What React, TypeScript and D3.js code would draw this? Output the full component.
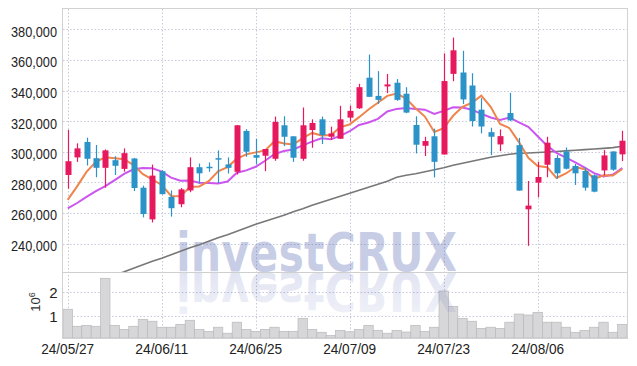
import React from 'react';
import * as d3 from 'd3';

const dates = [
  '24/05/27','24/05/28','24/05/29','24/05/30','24/05/31','24/06/03','24/06/04','24/06/05','24/06/07','24/06/10',
  '24/06/11','24/06/12','24/06/13','24/06/14','24/06/17','24/06/18','24/06/19','24/06/20','24/06/21','24/06/24',
  '24/06/25','24/06/26','24/06/27','24/06/28','24/07/01','24/07/02','24/07/03','24/07/04','24/07/05','24/07/08',
  '24/07/09','24/07/10','24/07/11','24/07/12','24/07/15','24/07/16','24/07/17','24/07/18','24/07/19','24/07/22',
  '24/07/23','24/07/24','24/07/25','24/07/26','24/07/29','24/07/30','24/07/31','24/08/01','24/08/02','24/08/05',
  '24/08/06','24/08/07','24/08/08','24/08/09','24/08/12','24/08/13','24/08/14','24/08/16','24/08/19','24/08/20',
];

const opens = [
  284800,296300,306400,295800,289500,294500,288800,295600,276500,255800,
  287300,270500,265700,274700,289900,290200,295800,291700,286900,313600,
  297800,297400,295400,317300,310100,295400,314200,321200,309800,308500,
  322300,328400,348400,336500,342700,345100,337900,317500,303900,310100,
  298200,350900,351800,343300,327500,312800,304800,325300,304300,262400,
  279800,291500,295900,300200,290700,287400,284600,287800,300200,298300,
];
const highs = [
  314300,305500,309200,304400,301500,297100,302200,296000,277800,291600,
  288000,274700,276300,296300,292300,293000,300900,296300,317500,314700,
  308500,301800,323000,323200,310100,328900,321200,323000,316400,330000,
  330200,344400,363500,352700,350800,347500,342200,323200,309800,315100,
  364300,374600,366000,351300,335000,315700,314600,338500,309100,280900,
  293500,309800,297800,302800,292000,289800,285200,301100,300200,313700,
];
const lows = [
  275800,293400,291000,283300,276500,284800,287000,274300,257100,253800,
  272000,257600,263700,273600,279100,286900,279600,285800,285100,296700,
  291700,287300,294100,303700,293400,294100,302600,305000,307700,308500,
  319700,328000,335900,331300,338300,333300,325200,298900,297200,283200,
  298200,346100,331200,316500,312000,297800,300400,320000,274600,238500,
  270200,283300,282400,288500,278300,274600,273500,284600,287600,293900,
];
const closes = [
  293800,302200,295400,289500,300900,290800,299100,276300,259300,284400,
  272300,263100,275400,289900,285900,289900,295000,289500,317300,300000,
  296100,301800,319500,309800,296100,317300,318800,310900,312000,321200,
  326700,342200,335900,333900,344000,333900,325600,304600,307000,293400,
  346200,366300,334200,320100,316500,309800,310200,320500,274600,264800,
  283500,305900,285900,288900,285900,276500,273900,297600,288300,307200,
];
const volumes = [
  1.27,0.56,0.60,0.56,2.56,0.60,0.43,0.56,0.85,0.77,
  0.52,0.52,0.64,0.81,0.43,0.35,0.52,0.27,0.73,0.43,
  0.35,0.43,0.52,0.35,0.35,0.89,0.43,0.31,0.18,0.39,
  0.33,0.43,0.60,0.39,0.27,0.39,0.32,0.60,0.35,0.52,
  2.03,1.39,0.89,0.77,0.47,0.52,0.47,0.73,1.07,1.03,
  1.14,0.73,0.73,0.52,0.31,0.39,0.52,0.73,0.31,0.64,
];
const ma5 = [
  268500,277400,286800,293400,296400,295800,295100,291300,285300,282000,
  278300,271100,270900,277000,277300,280800,287200,290000,295500,298300,
  299600,300900,306900,305400,304700,308900,312300,310600,311000,316000,
  317900,322600,327600,332000,336500,338000,334700,328400,323000,312900,
  315400,323500,329400,332000,336700,329400,318200,315400,306300,296000,
  290700,289900,282900,285800,290000,288600,282200,284600,284400,288700,
];
const ma10 = [
  263000,266500,270500,274300,277500,281500,285500,288500,289300,289200,
  287000,283100,281100,281200,279700,279600,279200,280500,286300,287800,
  290200,294100,298500,300500,301500,304200,306600,308800,308200,310400,
  313400,317500,319100,321500,326300,328000,328600,328000,327500,324700,
  326700,329100,328900,327500,324800,322400,320800,322400,319200,316300,
  310100,304000,299200,296100,293000,289700,286000,283800,285100,289400,
];
const maLong: (number | null)[] = [
  null,null,null,null,null,219300,221500,223900,226100,228400,
  230400,232700,235000,237300,239200,241500,243800,245800,248000,250300,
  252600,254600,256500,258500,260800,262700,265000,267000,269000,270900,
  272900,274800,276800,278800,280700,283300,284600,285600,286900,288200,
  289500,291200,292500,293800,295100,296400,297400,298400,299000,299200,
  299500,299800,300200,300600,301000,301400,301800,302200,302700,303600,
];

const priceTicks = [240000,260000,280000,300000,320000,340000,360000,380000];
const volumeTicks = [1, 2];
const dateTickIdx = [0,10,20,30,40,50];

const W = 637, H = 366;
const L = 63, R = 627, T = 9, PB = 272, VB = 338;
const UP = '#e6195f', DOWN = '#2b93c8';
const FONT = '"Liberation Sans", Arial, sans-serif';

export default function App() {
  const idx = d3.range(dates.length);
  const x = d3.scaleBand<number>().domain(idx).range([L, R]).padding(0);
  const cx = (i: number) => (x(i) as number) + x.bandwidth() / 2;
  const y = d3.scaleLinear().domain([221400, 393300]).range([PB, T]);
  const yv = d3.scaleLinear().domain([0, 2.8]).range([339.7, 272.5]);
  const fmt = d3.format(',');

  const line = (arr: (number | null)[]) =>
    d3.line<number | null>()
      .defined((d) => d != null)
      .x((_, i) => cx(i))
      .y((d) => y(d as number))
      .curve(d3.curveLinear)(arr) || '';

  const bodyW = 6;

  return (
    <svg width={W} height={H} style={{ position: 'absolute', left: 0, top: 0, background: '#fff' }}
      fontFamily={FONT}>
      <defs>
        <clipPath id="pclip"><rect x={L} y={T} width={R - L} height={PB - T} /></clipPath>
        <clipPath id="vclip"><rect x={L} y={PB} width={R - L} height={VB - PB} /></clipPath>
        <linearGradient id="refl" x1="0" y1="0" x2="0" y2="1">
          <stop offset="0" stopColor="#3c4ea8" stopOpacity={0.07} />
          <stop offset="1" stopColor="#3c4ea8" stopOpacity={0.17} />
        </linearGradient>
      </defs>

      {/* grid */}
      <g stroke="#c6c8dc" strokeWidth={1} strokeDasharray="1.5 2">
        {priceTicks.map((t) => (
          <line key={'p' + t} x1={L} x2={R} y1={Math.round(y(t)) + 0.5} y2={Math.round(y(t)) + 0.5} />
        ))}
        {volumeTicks.map((t) => (
          <line key={'v' + t} x1={L} x2={R} y1={Math.round(yv(t)) + 0.5} y2={Math.round(yv(t)) + 0.5} />
        ))}
        {dateTickIdx.map((i) => (
          <line key={'d' + i} x1={Math.round(cx(i)) + 0.5} x2={Math.round(cx(i)) + 0.5} y1={T} y2={VB} />
        ))}
      </g>

      {/* volume bars */}
      <g clipPath="url(#vclip)">
        {volumes.map((v, i) => (
          <rect key={i} x={x(i)} y={yv(v)} width={x.bandwidth()} height={VB - yv(v)}
            fill="#d7d7da" stroke="#b9b9bd" strokeWidth={0.7} />
        ))}
      </g>

      {/* watermark */}
      <text x={176} y={271} fontFamily='"DejaVu Sans", sans-serif' fontWeight="bold" fontSize={53}
        textLength={281} lengthAdjust="spacingAndGlyphs" fill="#3c4ea8" fillOpacity={0.28}>investCRUX</text>
      <g clipPath="url(#vclip)">
        <g transform={`translate(0,${2 * 272}) scale(1,-1)`}>
          <text x={176} y={271} fontFamily='"DejaVu Sans", sans-serif' fontWeight="bold" fontSize={53}
            textLength={281} lengthAdjust="spacingAndGlyphs" fill="url(#refl)">investCRUX</text>
        </g>
      </g>

      {/* price panel */}
      <g clipPath="url(#pclip)">
        <path d={line(maLong)} fill="none" stroke="#777" strokeWidth={1.6} />
        <path d={line(ma10)} fill="none" stroke="#cc55f0" strokeWidth={2} />
        <path d={line(ma5)} fill="none" stroke="#ef844c" strokeWidth={2} />
        {idx.map((i) => {
          const up = closes[i] >= opens[i];
          const c = up ? UP : DOWN;
          const top = y(Math.max(opens[i], closes[i]));
          const bot = y(Math.min(opens[i], closes[i]));
          const xc = Math.round(cx(i));
          return (
            <g key={i}>
              <line x1={xc + 0.5} x2={xc + 0.5} y1={y(highs[i])} y2={y(lows[i])} stroke={c} strokeWidth={1.2} />
              <rect x={xc + 0.5 - bodyW / 2} y={top} width={bodyW} height={Math.max(1.5, bot - top)} fill={c} />
            </g>
          );
        })}
      </g>

      {/* frame */}
      <g fill="none" stroke="#d2d2d2" strokeWidth={1}>
        <rect x={L - 0.5} y={T - 0.5} width={R - L + 1} height={VB - T + 1} />
        <line x1={L} x2={R} y1={PB + 0.5} y2={PB + 0.5} stroke="#cfcfcf" />
      </g>

      {/* y labels */}
      <g fill="#222" fontSize={15} textAnchor="end">
        {priceTicks.map((t) => (
          <text key={t} x={57} y={y(t) + 7.5} textLength={46} lengthAdjust="spacingAndGlyphs">{fmt(t)}</text>
        ))}
        {volumeTicks.map((t) => (
          <text key={'v' + t} x={57.5} y={yv(t) + 6}>{t}</text>
        ))}
      </g>
      <text transform="translate(39.5,302) rotate(-90)" textAnchor="middle" fontSize={13} fill="#333">
        10<tspan dy={-5} fontSize={9}>6</tspan>
      </text>

      {/* x labels */}
      <g fill="#222" fontSize={15} textAnchor="middle">
        {dateTickIdx.map((i) => (
          <text key={i} x={cx(i)} y={353.5} textLength={53} lengthAdjust="spacingAndGlyphs">{dates[i]}</text>
        ))}
      </g>
    </svg>
  );
}
